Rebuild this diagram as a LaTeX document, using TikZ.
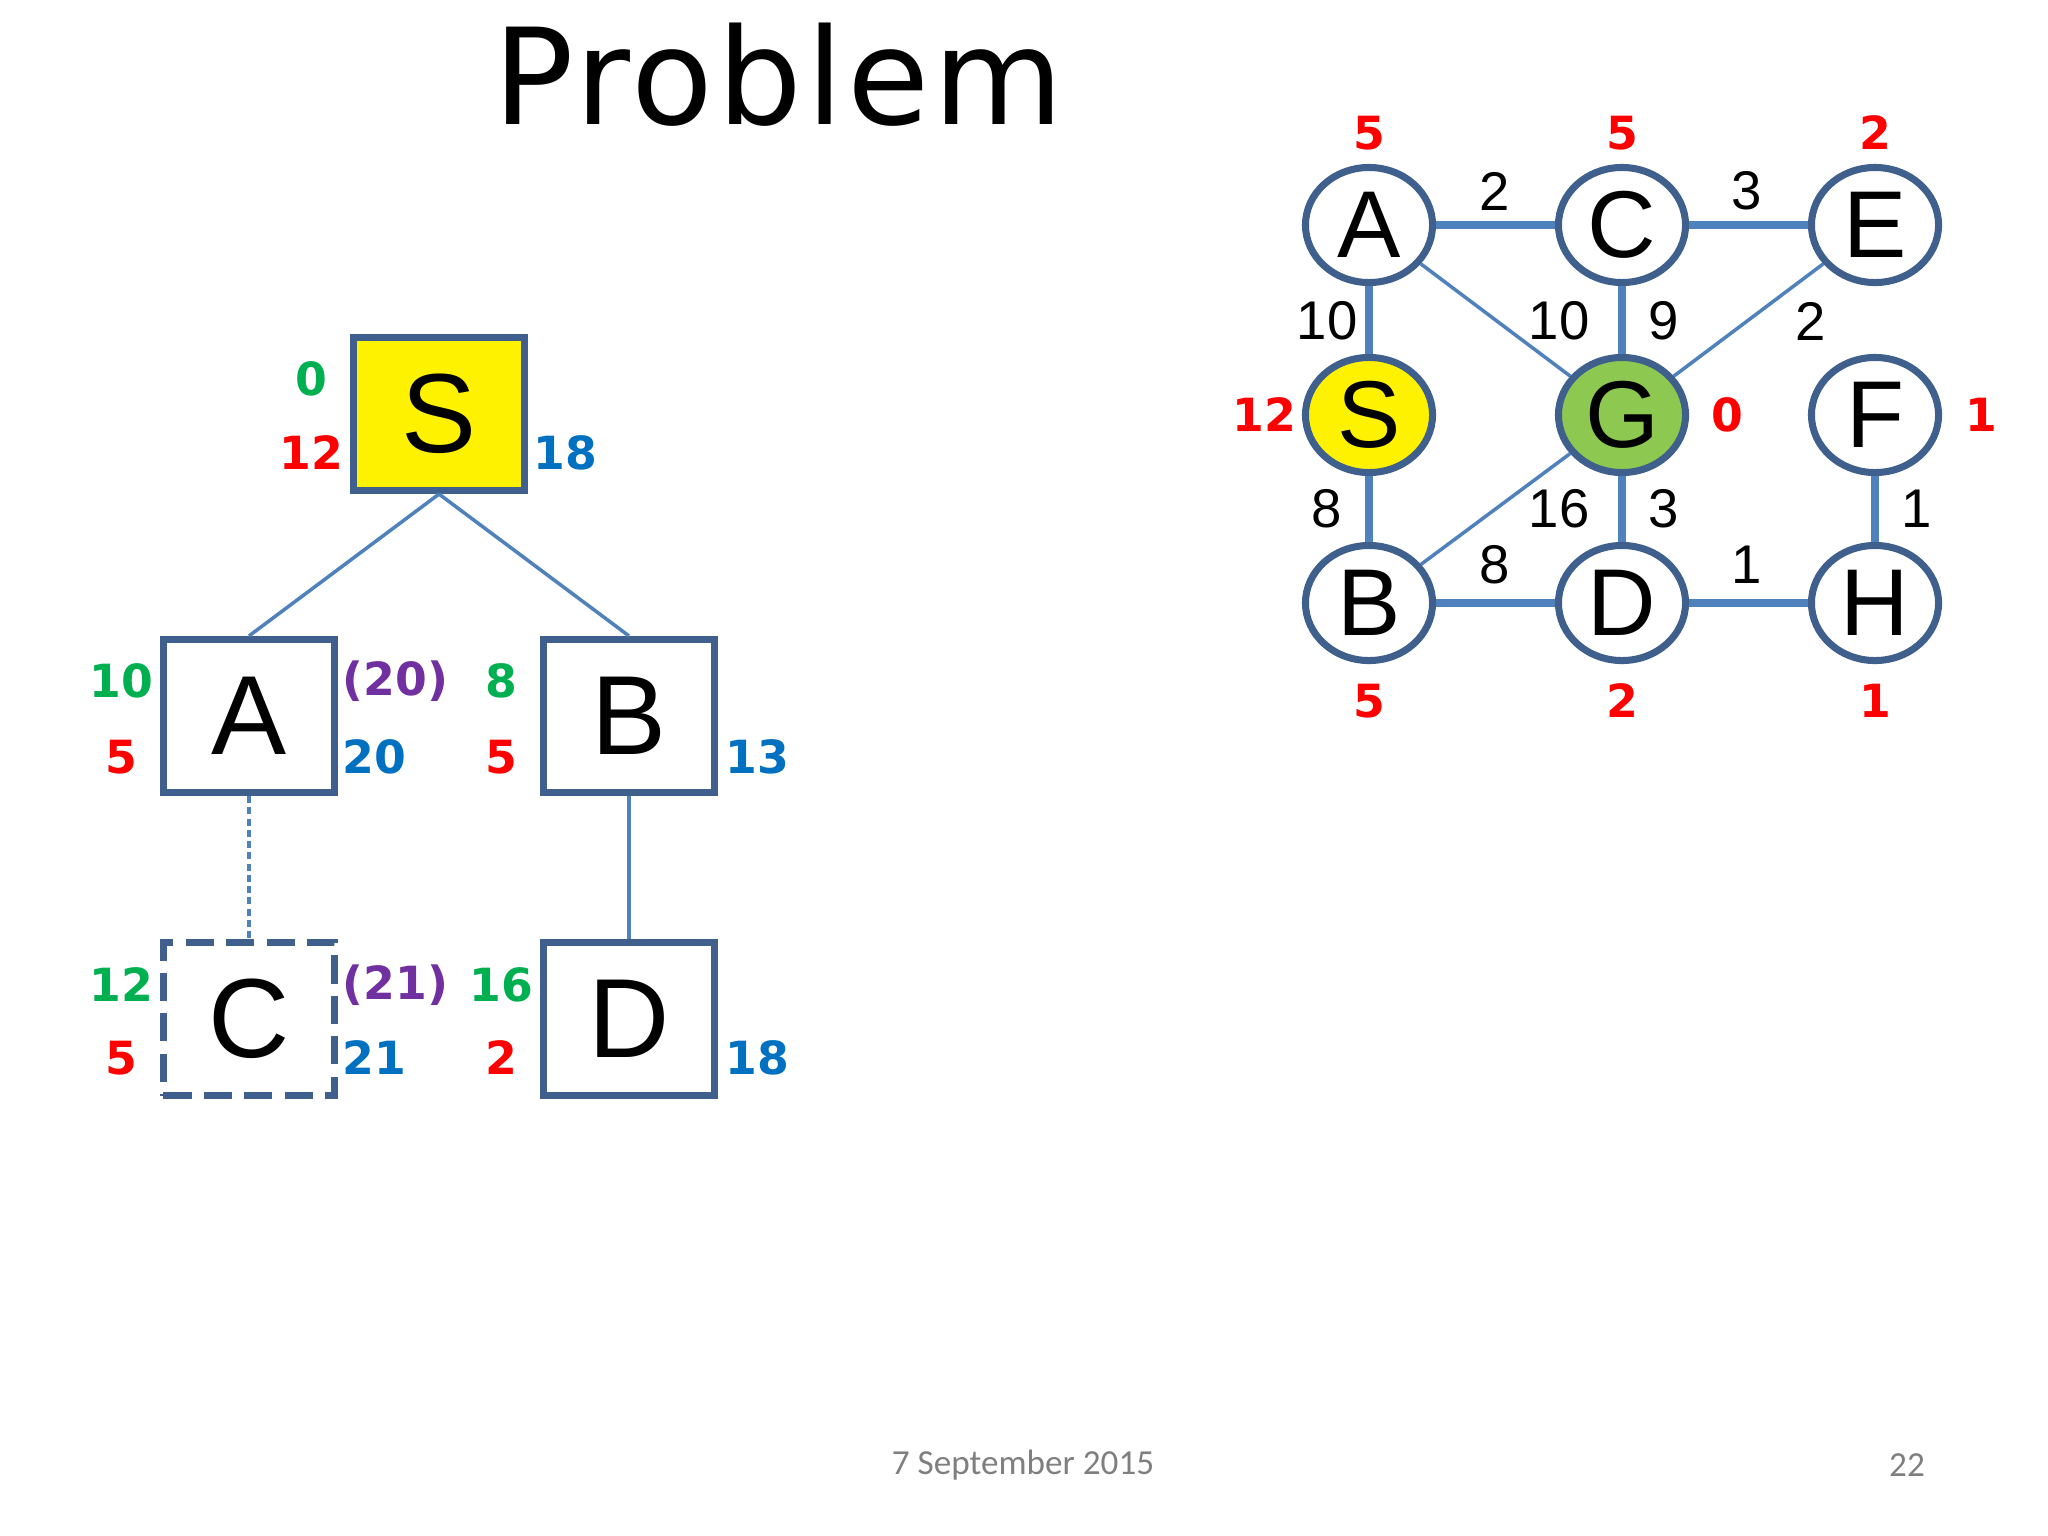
\documentclass[tikz,border=0pt]{standalone}
\usepackage{fontspec}
\setmainfont{Liberation Sans}
\newfontfamily\headfont{DejaVu Sans}
\newfontfamily\titlefont[LetterSpace=3]{DejaVu Sans}
\newfontfamily\footfont{Carlito}
\usetikzlibrary{shapes.geometric}

\definecolor{boxline}{HTML}{3F5F8C}
\definecolor{edgeblue}{HTML}{4F81BD}
\definecolor{gval}{HTML}{00B050}
\definecolor{hval}{HTML}{FF0000}
\definecolor{fval}{HTML}{0070C0}
\definecolor{oldval}{HTML}{7030A0}
\definecolor{goalgreen}{HTML}{8DC850}
\definecolor{footgray}{HTML}{7F7F7F}

\begin{document}
\begin{tikzpicture}[
  x=0.01cm, y=-0.01cm,
  tnode/.style={rectangle, draw=boxline, line width=2pt, fill=white, minimum width=1.71cm, minimum height=1.53cm, inner sep=0pt, font=\fontsize{32}{36}\selectfont},
  gnode/.style={ellipse, draw=boxline, line width=2pt, fill=white, minimum width=1.27cm, minimum height=1.15cm, inner sep=0pt, font=\fontsize{27}{30}\selectfont},
  num/.style={inner sep=0pt, font=\headfont\bfseries\fontsize{13}{15}\selectfont},
  wt/.style={inner sep=0pt, font=\fontsize{15.5}{17}\selectfont},
  tree/.style={edgeblue, line width=1pt},
  road/.style={edgeblue, line width=2.2pt},
  shortcut/.style={edgeblue, line width=1pt}
]
  \fill[white] (0,0) rectangle (2048,1536);
  \useasboundingbox (0,0) rectangle (2048,1536);

  \node[anchor=base, font=\titlefont\fontsize{38}{40}\selectfont] (title) at (779,124) {Problem};

  % search tree
  \node[tnode, fill=yellow] (S) at (439,414)  {S};
  \node[tnode] (A) at (249,716)  {A};
  \node[tnode] (B) at (629,716)  {B};
  \node[tnode, dash pattern=on 8pt off 3.5pt] (C) at (249,1019) {C};
  \node[tnode] (D) at (629,1019) {D};

  \draw[tree] (S.south) -- (A.north);
  \draw[tree] (S.south) -- (B.north);
  \draw[tree, dash pattern=on 2pt off 1.2pt] (A.south) -- (C.north);
  \draw[tree] (B.south) -- (D.north);

  \node[num, text=gval] (Sg) at (311,379) {0};
  \node[num, text=hval] (Sh) at (311,453) {12};
  \node[num, text=fval, anchor=west] (Sf) at (533,453) {18};

  \node[num, text=gval] (Ag) at (121,681) {10};
  \node[num, text=hval] (Ah) at (121,757) {5};
  \node[num, text=oldval, anchor=west] (Ao) at (342,681) {(20)};
  \node[num, text=fval, anchor=west] (Af) at (342,757) {20};

  \node[num, text=gval] (Bg) at (501,681) {8};
  \node[num, text=hval] (Bh) at (501,757) {5};
  \node[num, text=fval, anchor=west] (Bf) at (725,757) {13};

  \node[num, text=gval] (Cg) at (121,985) {12};
  \node[num, text=hval] (Ch) at (121,1058) {5};
  \node[num, text=oldval, anchor=west] (Co) at (342,985) {(21)};
  \node[num, text=fval, anchor=west] (Cf) at (342,1058) {21};

  \node[num, text=gval] (Dg) at (501,985) {16};
  \node[num, text=hval] (Dh) at (501,1058) {2};
  \node[num, text=fval, anchor=west] (Df) at (725,1058) {18};

  % state graph
  \node[gnode] (gA) at (1369,225) {A};
  \node[gnode] (gC) at (1622,225) {C};
  \node[gnode] (gE) at (1875,225) {E};
  \node[gnode, fill=yellow] (gS) at (1369,415) {S};
  \node[gnode, fill=goalgreen] (gG) at (1622,415) {G};
  \node[gnode] (gF) at (1875,415) {F};
  \node[gnode] (gB) at (1369,603) {B};
  \node[gnode] (gD) at (1622,603) {D};
  \node[gnode] (gH) at (1875,603) {H};

  \draw[road] (gA) -- (gC);
  \draw[road] (gC) -- (gE);
  \draw[road] (gA) -- (gS);
  \draw[road] (gC) -- (gG);
  \draw[road] (gS) -- (gB);
  \draw[road] (gG) -- (gD);
  \draw[road] (gB) -- (gD);
  \draw[road] (gD) -- (gH);
  \draw[road] (gF) -- (gH);
  \draw[shortcut] (gA) -- (gG);
  \draw[shortcut] (gE) -- (gG);
  \draw[shortcut] (gB) -- (gG);

  \node[wt] (wAC) at (1495,191) {2};
  \node[wt] (wCE) at (1747,191) {3};
  \node[wt] (wAS) at (1327,321) {10};
  \node[wt] (wAG) at (1559,321) {10};
  \node[wt] (wCG) at (1664,321) {9};
  \node[wt] (wEG) at (1811,321) {2};
  \node[wt] (wSB) at (1327,509) {8};
  \node[wt] (wBG) at (1559,509) {16};
  \node[wt] (wGD) at (1664,509) {3};
  \node[wt] (wFH) at (1917,509) {1};
  \node[wt] (wBD) at (1495,565) {8};
  \node[wt] (wDH) at (1747,565) {1};

  \node[num, text=hval] (hA) at (1369,133) {5};
  \node[num, text=hval] (hC) at (1622,133) {5};
  \node[num, text=hval] (hE) at (1875,133) {2};
  \node[num, text=hval] (hS) at (1264,415) {12};
  \node[num, text=hval] (hG) at (1727,415) {0};
  \node[num, text=hval] (hF) at (1981,415) {1};
  \node[num, text=hval] (hB) at (1369,701) {5};
  \node[num, text=hval] (hD) at (1622,701) {2};
  \node[num, text=hval] (hH) at (1875,701) {1};

  % footer
  \node[text=footgray, font=\footfont\fontsize{10}{12}\selectfont] (date) at (1023,1465) {7 September 2015};
  \node[text=footgray, font=\footfont\fontsize{10}{12}\selectfont] (page) at (1907,1465) {22};
\end{tikzpicture}
\end{document}
